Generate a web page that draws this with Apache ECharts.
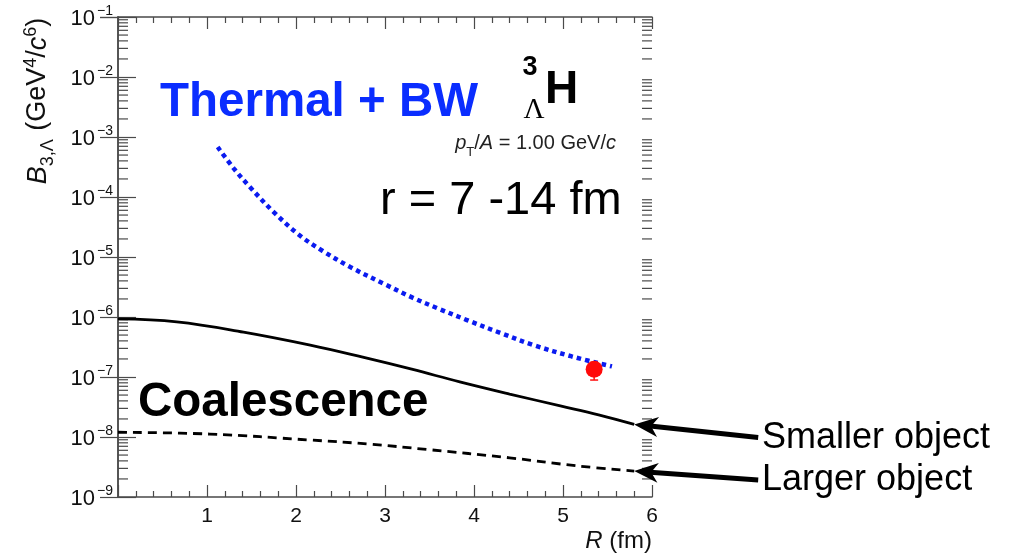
<!DOCTYPE html>
<html>
<head>
<meta charset="utf-8">
<script src="https://cdn.jsdelivr.net/npm/echarts@6/dist/echarts.min.js"></script>
<style>
html,body{margin:0;padding:0;background:#fff;}
#main{width:1031px;height:556px;}
</style>
</head>
<body>
<div id="main"></div>
<script>
// ---- data ----
const R_BW = [1.12, 1.3, 1.48, 1.75, 2.04, 2.3, 2.61, 3.0, 3.31, 3.6, 3.92, 4.3, 4.67, 5.1, 5.55];
const B_BW = [6.8e-4, 3.0e-4, 1.48e-4, 5.6e-5, 2.3e-5, 1.26e-5, 6.8e-6, 3.5e-6, 2.1e-6, 1.38e-6, 8.9e-7, 5.4e-7, 3.4e-7, 2.2e-7, 1.5e-7];

const R_SMALL = [0, 0.66, 1.41, 2.16, 2.75, 3.3, 3.84, 4.4, 4.97, 5.4, 5.8];
const B_SMALL = [9.3e-7, 8.3e-7, 5.6e-7, 3.4e-7, 2.14e-7, 1.35e-7, 8.3e-8, 5.2e-8, 3.3e-8, 2.34e-8, 1.62e-8];

const R_LARGE = [0, 1.03, 2.16, 2.83, 3.47, 4.4, 5.16, 5.8];
const B_LARGE = [1.2e-8, 1.12e-8, 8.9e-9, 7.6e-9, 6.2e-9, 4.5e-9, 3.3e-9, 2.7e-9];

const R_DATA = [5.35];
const B_DATA = [1.35e-7];
const B_DATA_LOW = [8.9e-8];

const X_TICKS = [0, 1, 2, 3, 4, 5, 6];
const Y_DECADES = [-9, -8, -7, -6, -5, -4, -3, -2, -1];
const MINOR_MULT = [2, 3, 4, 5, 6, 7, 8, 9];

// ---- helpers ----
const pairs = (xs, ys) => xs.map((x, i) => [x, ys[i]]);
const minorVals = [];
Y_DECADES.slice(0, -1).forEach(d => MINOR_MULT.forEach(m => minorVals.push([m * Math.pow(10, d)])));

const AX = '#4a4a4a';
const FONT = 'Liberation Sans, Arial, Helvetica, sans-serif';

const chart = echarts.init(document.getElementById('main'), null, {renderer: 'canvas'});

const yLabelFmt = v => {
  const e = Math.round(Math.log10(v));
  return '{b|10}{s|\u2212' + Math.abs(e) + '}';
};

const option = {
  animation: false,
  backgroundColor: '#fff',
  grid: {left: 118, right: 379, top: 17, bottom: 59, containLabel: false},
  xAxis: [{
    type: 'value', min: X_TICKS[0], max: X_TICKS[X_TICKS.length - 1], interval: 1,
    position: 'bottom',
    axisLine: {show: true, lineStyle: {color: AX, width: 1.5}},
    axisTick: {show: true, inside: true, length: 12, lineStyle: {color: AX, width: 1.2}},
    minorTick: {show: true, splitNumber: 5, length: 6, lineStyle: {color: AX, width: 1.2}},
    splitLine: {show: false},
    axisLabel: {
      show: true, margin: 9, fontFamily: FONT, fontSize: 21, color: '#111',
      formatter: v => (v === 0 ? '' : String(v))
    }
  }, {
    type: 'value', min: X_TICKS[0], max: X_TICKS[X_TICKS.length - 1], interval: 1,
    position: 'top',
    axisLine: {show: true, lineStyle: {color: AX, width: 1.5}},
    axisTick: {show: true, inside: true, length: 12, lineStyle: {color: AX, width: 1.2}},
    minorTick: {show: true, splitNumber: 5, length: 6, lineStyle: {color: AX, width: 1.2}},
    splitLine: {show: false},
    axisLabel: {show: false}
  }],
  yAxis: [{
    type: 'log', logBase: 10, min: 1e-9, max: 1e-1, interval: 1,
    position: 'left',
    axisLine: {show: true, lineStyle: {color: AX, width: 1.5}},
    axisTick: {show: true, inside: true, length: 18, lineStyle: {color: AX, width: 1.2}},
    minorTick: {show: false},
    splitLine: {show: false},
    axisLabel: {
      show: true, margin: 5, formatter: yLabelFmt, padding: [0, 0, 0, 0],
      rich: {
        b: {fontFamily: FONT, fontSize: 22, color: '#111', verticalAlign: 'bottom', padding: [0, 0, 0, 0]},
        s: {fontFamily: FONT, fontSize: 14, color: '#111', verticalAlign: 'bottom', padding: [0, 0, 11, 2]}
      }
    }
  }, {
    type: 'log', logBase: 10, min: 1e-9, max: 1e-1, interval: 1,
    position: 'right',
    axisLine: {show: true, lineStyle: {color: AX, width: 1.5}},
    axisTick: {show: true, inside: true, length: 18, lineStyle: {color: AX, width: 1.2}},
    splitLine: {show: false},
    axisLabel: {show: false}
  }],
  series: [
    {
      name: 'minorTicks', type: 'custom', xAxisIndex: 0, yAxisIndex: 0, silent: true, clip: false, z: 1,
      data: minorVals,
      renderItem: (params, api) => {
        const v = api.value(0);
        const pl = api.coord([X_TICKS[0], v]);
        const pr = api.coord([X_TICKS[X_TICKS.length - 1], v]);
        const st = {stroke: AX, lineWidth: 1.2};
        return {type: 'group', children: [
          {type: 'line', shape: {x1: pl[0], y1: pl[1], x2: pl[0] + 10, y2: pl[1]}, style: st},
          {type: 'line', shape: {x1: pr[0], y1: pr[1], x2: pr[0] - 10, y2: pr[1]}, style: st}
        ]};
      }
    },
    {
      name: 'Thermal + BW', type: 'line', smooth: 0.35, showSymbol: false, symbol: 'none',
      data: pairs(R_BW, B_BW), z: 3,
      lineStyle: {color: '#0a1bf0', width: 4.5, type: [4.5, 4], cap: 'butt'}
    },
    {
      name: 'Smaller object', type: 'line', smooth: 0.4, showSymbol: false, symbol: 'none',
      data: pairs(R_SMALL, B_SMALL), z: 3,
      lineStyle: {color: '#000', width: 2.8, type: 'solid'}
    },
    {
      name: 'Larger object', type: 'line', smooth: 0.4, showSymbol: false, symbol: 'none',
      data: pairs(R_LARGE, B_LARGE), z: 3,
      lineStyle: {color: '#000', width: 2.8, type: [9, 6]}
    },
    {
      name: 'errbar', type: 'custom', silent: true, z: 4,
      data: R_DATA.map((r, i) => [r, B_DATA[i], B_DATA_LOW[i]]),
      renderItem: (params, api) => {
        const p0 = api.coord([api.value(0), api.value(1)]);
        const p1 = api.coord([api.value(0), api.value(2)]);
        const st = {stroke: '#ff1010', lineWidth: 1.5};
        return {type: 'group', children: [
          {type: 'line', shape: {x1: p0[0], y1: p0[1], x2: p1[0], y2: p1[1]}, style: st},
          {type: 'line', shape: {x1: p1[0] - 4, y1: p1[1], x2: p1[0] + 4, y2: p1[1]}, style: st}
        ]};
      }
    },
    {
      name: 'data', type: 'scatter', symbol: 'circle', symbolSize: 17, z: 5,
      data: pairs(R_DATA, B_DATA),
      itemStyle: {color: '#ff0a0a', opacity: 1}
    }
  ],
  graphic: []
};

chart.setOption(option);

// annotations (text + arrows), placed after the axes exist
const tipS = chart.convertToPixel({xAxisIndex: 0, yAxisIndex: 0}, [R_SMALL[R_SMALL.length - 1], B_SMALL[B_SMALL.length - 1]]);
const tipL = chart.convertToPixel({xAxisIndex: 0, yAxisIndex: 0}, [R_LARGE[R_LARGE.length - 1], B_LARGE[B_LARGE.length - 1]]);

function arrow(tip, dx, dy) {
  const tail = [tip[0] + dx, tip[1] + dy];
  const ang = Math.atan2(tail[1] - tip[1], tail[0] - tip[0]);
  const L = 24, W = 10;
  const ca = Math.cos(ang), sa = Math.sin(ang);
  const bx = tip[0] + L * ca, by = tip[1] + L * sa;
  const nx = -sa, ny = ca;
  return [
    {type: 'line', z: 10, shape: {x1: bx - 8 * ca, y1: by - 8 * sa, x2: tail[0], y2: tail[1]}, style: {stroke: '#000', lineWidth: 5}},
    {type: 'polygon', z: 10, shape: {points: [[tip[0], tip[1]], [bx + nx * W, by + ny * W], [bx - 7 * ca, by - 7 * sa], [bx - nx * W, by - ny * W]]}, style: {fill: '#000'}}
  ];
}

const graphics = [
  {type: 'text', z: 10, x: 160, y: 103, style: {text: 'Thermal + BW', fontFamily: FONT, fontWeight: 'bold', fontSize: 47.5, fill: '#0a2dff', align: 'left', verticalAlign: 'middle'}},
  {type: 'text', z: 10, x: 138, y: 403, style: {text: 'Coalescence', fontFamily: FONT, fontWeight: 'bold', fontSize: 47.5, fill: '#000', align: 'left', verticalAlign: 'middle'}},
  {type: 'text', z: 10, x: 380, y: 201, style: {text: 'r = 7 -14 fm', fontFamily: FONT, fontSize: 47, fill: '#000', align: 'left', verticalAlign: 'middle'}},
  {type: 'text', z: 10, x: 530, y: 68, style: {text: '3', fontFamily: FONT, fontWeight: 'bold', fontSize: 27, fill: '#000', align: 'center', verticalAlign: 'middle'}},
  {type: 'text', z: 10, x: 545, y: 90, style: {text: 'H', fontFamily: FONT, fontWeight: 'bold', fontSize: 46, fill: '#000', align: 'left', verticalAlign: 'middle'}},
  {type: 'text', z: 10, x: 534, y: 110, style: {text: '\u039B', fontFamily: 'Liberation Serif, Times New Roman, serif', fontSize: 29, fill: '#000', align: 'center', verticalAlign: 'middle'}},
  {type: 'text', z: 10, x: 616, y: 146, style: {
    text: '{i|p}{sub|T}{n|/}{i|A}{n| = 1.00 GeV/}{i|c}',
    align: 'right', verticalAlign: 'middle',
    rich: {
      i: {fontFamily: FONT, fontStyle: 'italic', fontSize: 20, fill: '#222', verticalAlign: 'bottom', padding: [0, 0, 5, 0]},
      n: {fontFamily: FONT, fontSize: 20, fill: '#222', verticalAlign: 'bottom', padding: [0, 0, 5, 0]},
      sub: {fontFamily: FONT, fontSize: 13, fill: '#222', verticalAlign: 'bottom', padding: [0, 0, 0, 0]}
    }
  }},
  {type: 'text', z: 10, x: 762, y: 438, style: {text: 'Smaller object', fontFamily: FONT, fontSize: 36, fill: '#000', align: 'left', verticalAlign: 'middle'}},
  {type: 'text', z: 10, x: 762, y: 480, style: {text: 'Larger object', fontFamily: FONT, fontSize: 36, fill: '#000', align: 'left', verticalAlign: 'middle'}},
  {type: 'text', z: 10, x: 652, y: 541, style: {
    text: '{i|R}{n| (fm)}', align: 'right', verticalAlign: 'middle',
    rich: {
      i: {fontFamily: FONT, fontStyle: 'italic', fontSize: 24, fill: '#111'},
      n: {fontFamily: FONT, fontSize: 24, fill: '#111'}
    }
  }},
  {type: 'text', z: 10, x: 40, y: 101, rotation: Math.PI / 2, style: {
    text: '{i|B}{sub|3,\u039B}{n| (GeV}{sup|4}{n|/}{i|c}{sup|6}{n|)}',
    align: 'center', verticalAlign: 'middle',
    rich: {
      i: {fontFamily: FONT, fontStyle: 'italic', fontSize: 27, fill: '#111', verticalAlign: 'bottom', padding: [0, 0, 6, 0]},
      n: {fontFamily: FONT, fontSize: 27, fill: '#111', verticalAlign: 'bottom', padding: [0, 0, 6, 0]},
      sub: {fontFamily: FONT, fontSize: 18, fill: '#111', verticalAlign: 'bottom', padding: [0, 1, 0, 0]},
      sup: {fontFamily: FONT, fontSize: 18, fill: '#111', verticalAlign: 'bottom', padding: [0, 0, 17, 0]}
    }
  }}
].concat(arrow(tipS, 124, 13), arrow(tipL, 124, 9));

chart.setOption({graphic: graphics});
</script>
</body>
</html>
